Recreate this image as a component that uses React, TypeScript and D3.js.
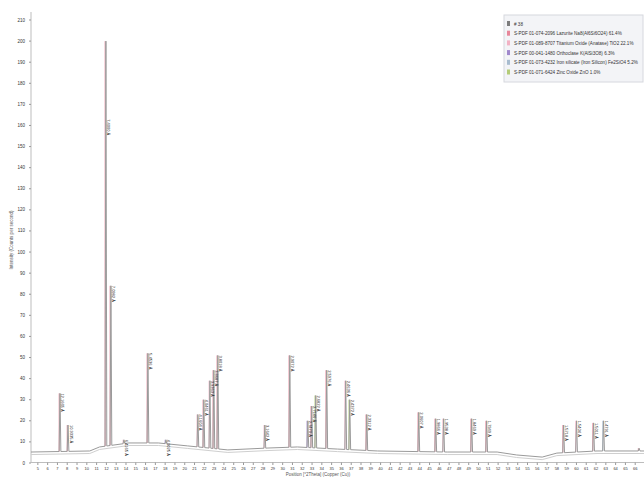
import React from "react";
import * as d3 from "d3";

// ---- data ----
const yTicks = [0, 10, 20, 30, 40, 50, 60, 70, 80, 90, 100, 110, 120, 130, 140, 150, 160, 170, 180, 190, 200, 210];
const xTicks = d3.range(5, 67, 1);

// background of the scan (2theta, counts)
const bgTheta = [4.3, 10.3, 11.3, 14.3, 17.3, 20.3, 24.4, 28.5, 31.5, 35.6, 39.7, 46.8, 51.9, 53.9, 56.5, 58.0, 62.1, 67];
const bgCounts = [5.2, 5.7, 7.6, 9.5, 9.5, 8.1, 6.2, 7.1, 7.6, 6.6, 5.7, 5.2, 5.2, 3.8, 2.8, 4.7, 5.7, 5.7];

// identified peaks
const peakTheta = [7.26, 8.08, 11.95, 12.46, 13.79, 16.24, 18.08, 21.34, 21.95, 22.57, 22.97, 23.38, 28.18, 30.73, 32.57, 32.97, 33.38, 34.5, 36.44, 36.85, 38.59, 43.9, 45.63, 46.44, 49.3, 50.83, 58.69, 60.01, 61.75, 62.77, 66.4];
const peakCounts = [33, 18, 200, 84, 11, 52, 11, 23, 30, 39, 44, 51, 18, 51, 20, 27, 32, 44, 39, 30, 23, 24, 21, 21, 21, 20, 18, 20, 19, 20, 7];
const peakPhase = [1, 1, 1, 1, 2, 1, 3, 2, 1, 2, 1, 1, 2, 1, 3, 1, 5, 1, 2, 5, 1, 1, 1, 2, 1, 1, 1, 2, 1, 4, 1];

const legendNames = [
  "# 38",
  "S-PDF 01-074-2096 Lazurite Na8(Al6Si6O24) 61.4%",
  "S-PDF 01-089-8707 Titanium Oxide (Anatase) TiO2 22.1%",
  "S-PDF 00-041-1480 Orthoclase K(AlSi3O8) 6.3%",
  "S-PDF 01-073-4232 Iron silicate (Iron Silicon) Fe2SiO4 5.2%",
  "S-PDF 01-071-6424 Zinc Oxide ZnO 1.0%",
];
const legendColors = ["#7d7d7d", "#e7879a", "#f2b2c4", "#a088cc", "#a8bccf", "#b4cc78"];

export default function App() {
  const W = 644, H = 477;
  const x = d3.scaleLinear().domain([4.3, 67]).range([31, 645]);
  const y = d3.scaleLinear().domain([0, 210]).range([463, 20]);
  const bg = d3.scaleLinear().domain(bgTheta).range(bgCounts);

  // pattern points: background + peak triangles
  const pts: [number, number][] = bgTheta.map((t, i) => [t, bgCounts[i]]);
  peakTheta.forEach((t, i) => {
    pts.push([t - 0.09, bg(t - 0.09)]);
    pts.push([t, peakCounts[i]]);
    pts.push([t + 0.09, bg(t + 0.09)]);
  });
  pts.sort((a, b) => a[0] - b[0]);
  const line = d3.line<[number, number]>().x(d => x(d[0])).y(d => y(d[1]));
  const bgLine = d3.line<number>().x((d, i) => x(bgTheta[i])).y(d => y(d - 1.2));

  const dSpacing = (t: number) => 1.5406 / (2 * Math.sin((t / 2) * Math.PI / 180));

  return (
    <svg width={W} height={H} style={{ position: "absolute", left: 0, top: 0, background: "#fff" }}
      fontFamily="Liberation Sans, Arial, sans-serif">
      {/* axes */}
      <line x1={31} x2={31} y1={12} y2={463} stroke="#bdbdbd" strokeWidth={1} />
      <line x1={31} x2={644} y1={462.5} y2={462.5} stroke="#bdbdbd" strokeWidth={1} />
      {yTicks.map(v => (
        <g key={"y" + v}>
          <line x1={29} x2={31} y1={y(v)} y2={y(v)} stroke="#999" />
          <text x={25} y={y(v) + 1.5} fontSize={4.5} textAnchor="end" fill="#333">{v}</text>
        </g>
      ))}
      {xTicks.map(v => (
        <g key={"x" + v}>
          <line x1={x(v)} x2={x(v)} y1={462.5} y2={465} stroke="#999" />
          <text x={x(v)} y={470} fontSize={4} textAnchor="middle" fill="#333">{v}</text>
        </g>
      ))}
      <text transform="translate(13,240) rotate(-90)" fontSize={4.5} textAnchor="middle" fill="#555">Intensity (Counts per second)</text>
      <text x={318} y={476} fontSize={4.5} textAnchor="middle" fill="#555">Position [°2Theta] (Copper (Cu))</text>

      {/* reference sticks */}
      {peakTheta.map((t, i) => (
        <line key={"s" + i} x1={x(t) - 0.8} x2={x(t) - 0.8} y1={y(bg(t))} y2={y(peakCounts[i])}
          stroke={legendColors[peakPhase[i]]} strokeWidth={1} opacity={0.85} />
      ))}

      {/* background and pattern */}
      <path d={bgLine(bgCounts) || ""} fill="none" stroke="#cfcfcf" strokeWidth={1} />
      <path d={line(pts) || ""} fill="none" stroke="#9a9a9a" strokeWidth={1} />

      {/* peak labels */}
      {peakTheta.map((t, i) => {
        if (peakCounts[i] < 10) return null;
        const ly = peakCounts[i] > 150 ? y(163) : y(peakCounts[i]);
        return (
          <text key={"l" + i} transform={`translate(${x(t) + 1},${ly}) rotate(90)`} fontSize={4}
            fill="#222" dy={-0.5}>{dSpacing(t).toFixed(4) + " Å"}</text>
        );
      })}

      {/* legend */}
      <rect x={504} y={15} width={139} height={67} fill="#f3f4f7" stroke="#d6d8de" />
      {legendNames.map((n, i) => (
        <g key={"g" + i}>
          <rect x={507} y={21 + i * 9.7} width={3} height={5} fill={legendColors[i]} />
          <text x={514} y={25.5 + i * 9.7} fontSize={4.6} fill="#333">{n}</text>
        </g>
      ))}
    </svg>
  );
}
